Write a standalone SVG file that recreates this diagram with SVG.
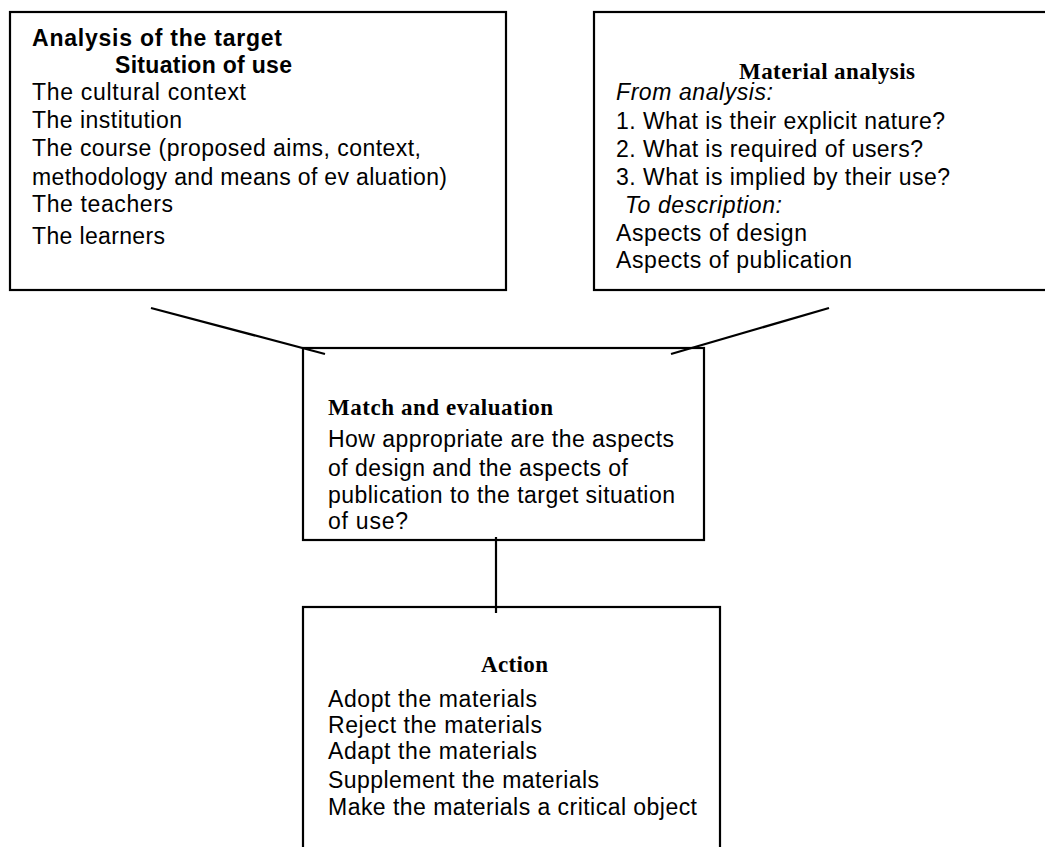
<svg xmlns="http://www.w3.org/2000/svg" width="1045" height="847" viewBox="0 0 1045 847">
<style>
.box{fill:#fff;stroke:#000;stroke-width:2.2}
.t{font-family:"Liberation Sans",Arial,sans-serif;font-size:23px;fill:#000}
.b{font-weight:bold}
.i{font-style:italic}
.h{font-family:"Liberation Serif","Times New Roman",serif;font-size:23px;font-weight:bold;fill:#000}
.c{stroke:#000;stroke-width:2.2;fill:none}
</style>
<rect width="1045" height="847" fill="#fff"/>
<g id="node-target">
<rect class="box" x="10" y="12" width="496" height="278"/>
<text class="t b" x="32" y="46" textLength="250">Analysis of the target</text>
<text class="t b" x="115" y="73" textLength="177">Situation of use</text>
<text class="t" x="32" y="100" textLength="214">The cultural context</text>
<text class="t" x="32" y="128" textLength="150">The institution</text>
<text class="t" x="32" y="156" textLength="389">The course (proposed aims, context,</text>
<text class="t" x="32" y="185" textLength="415">methodology and means of ev aluation)</text>
<text class="t" x="32" y="212" textLength="141">The teachers</text>
<text class="t" x="32" y="244" textLength="133">The learners</text>
</g>
<g id="node-material">
<rect class="box" x="594" y="12" width="470" height="278"/>
<text class="h" x="739" y="79" textLength="176">Material analysis</text>
<text class="t i" x="616" y="100" textLength="157">From analysis:</text>
<text class="t" x="616" y="129" textLength="329">1. What is their explicit nature?</text>
<text class="t" x="616" y="157" textLength="307">2. What is required of users?</text>
<text class="t" x="616" y="185" textLength="334">3. What is implied by their use?</text>
<text class="t i" x="625" y="213" textLength="157">To description:</text>
<text class="t" x="616" y="241" textLength="191">Aspects of design</text>
<text class="t" x="616" y="268" textLength="236">Aspects of publication</text>
</g>
<g id="node-match">
<rect class="box" x="303" y="348" width="401" height="192"/>
<text class="h" x="328" y="415" textLength="225">Match and evaluation</text>
<text class="t" x="328" y="447" textLength="346">How appropriate are the aspects</text>
<text class="t" x="328" y="476" textLength="300">of design and the aspects of</text>
<text class="t" x="328" y="503" textLength="347">publication to the target situation</text>
<text class="t" x="328" y="529" textLength="80">of use?</text>
</g>
<g id="node-action">
<rect class="box" x="303" y="607" width="417" height="270"/>
<text class="h" x="481" y="672" textLength="67">Action</text>
<text class="t" x="328" y="707" textLength="209">Adopt the materials</text>
<text class="t" x="328" y="733" textLength="214">Reject the materials</text>
<text class="t" x="328" y="759" textLength="209">Adapt the materials</text>
<text class="t" x="328" y="788" textLength="271">Supplement the materials</text>
<text class="t" x="328" y="815" textLength="369">Make the materials a critical object</text>
</g>
<g id="connectors">
<line class="c" x1="151" y1="308" x2="325" y2="354"/>
<line class="c" x1="829" y1="308" x2="671" y2="354"/>
<line class="c" x1="496" y1="537" x2="496" y2="613"/>
</g>
</svg>
